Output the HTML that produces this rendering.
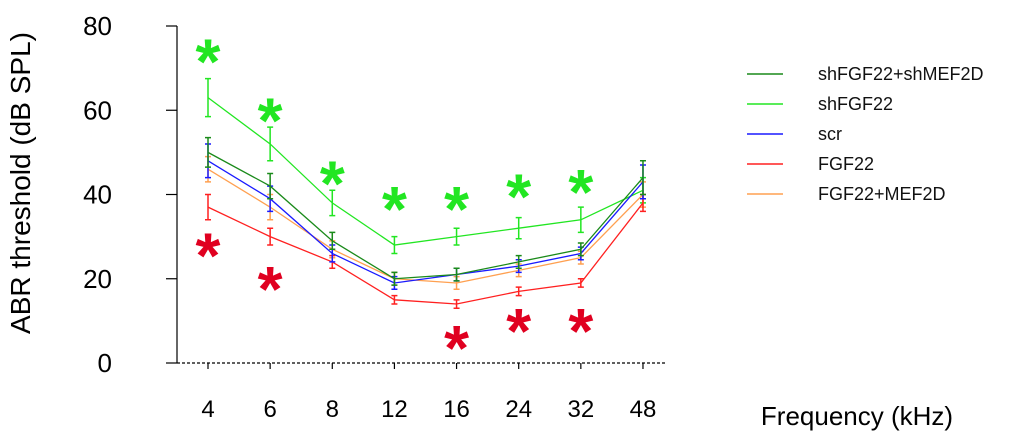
<!DOCTYPE html>
<html><head><meta charset="utf-8"><style>
body{margin:0;background:#fff;}
svg{display:block;font-family:"Liberation Sans",Arial,sans-serif;}
</style></head><body>
<svg id="chart" width="1020" height="441" viewBox="0 0 1020 441"></svg>
<script>
const categories=["4","6","8","12","16","24","32","48"];
const yTicks=[0,20,40,60,80];
const seriesNames=["shFGF22+shMEF2D","shFGF22","scr","FGF22","FGF22+MEF2D"];
const seriesColors=["#1a8a1a","#22e622","#1a1aff","#ff2020","#ffa050"];
const valsShBoth=[50,42,29,20,21,24,27,44];
const errShBoth=[3.5,3,2,1.5,1.5,1.5,1.5,4];
const valsShFGF=[63,52,38,28,30,32,34,41];
const errShFGF=[4.5,4,3,2,2,2.5,3,3];
const valsScr=[48,39,26,19,21,23,26,43];
const errScr=[4,3,2,1.5,1.5,1.5,1.5,4];
const valsFGF=[37,30,24,15,14,17,19,38];
const errFGF=[3,2,1.5,1,1,1,1,2];
const valsFGFMEF=[46,37,27,20,19,22,25,40];
const errFGFMEF=[3,3,2,1.5,1.5,1.5,1.5,3];
const greenStarVals=[73,59,44,38,38,41,42];
const greenStarCats=[0,1,2,3,4,5,6];
const redStarVals=[27,19,5,9,9];
const redStarCats=[0,1,4,5,6];

const svg=document.getElementById('chart');
const NS="http://www.w3.org/2000/svg";
function xs(i){return 208+i*62.14;}
function ys(v){return 363-4.2125*v;}
function mk(tag,attrs,parent){const e=document.createElementNS(NS,tag);for(const k in attrs)e.setAttribute(k,attrs[k]);(parent||svg).appendChild(e);return e;}

const yAxis=mk('line',{x1:177,y1:ys(80),x2:177,y2:ys(0),stroke:'#000','stroke-width':1.2});


const xAxis=mk('line',{x1:177,y1:ys(0),x2:665,y2:ys(0),stroke:'#000','stroke-width':1.2,'stroke-dasharray':'3,2'});


yTicks.forEach(t=>{
  const l=mk('line',{x1:166,y1:ys(t),x2:177,y2:ys(t),stroke:'#000','stroke-width':1.2});
  
  
  const tx=mk('text',{x:112,y:ys(t)+9,'text-anchor':'end','font-size':26,fill:'#000'});
  tx.textContent=t;
  
  
});
categories.forEach((c,i)=>{
  const x=xs(i);
  const l=mk('line',{x1:x,y1:ys(0),x2:x,y2:ys(0)+6,stroke:'#000','stroke-width':1.2});
  
  
  const tx=mk('text',{x:x,y:417,'text-anchor':'middle','font-size':24,fill:'#000'});
  tx.textContent=c;
  
  
});
const yt=mk('text',{x:0,y:0,transform:'translate(30,183) rotate(-90)','text-anchor':'middle','font-size':28,fill:'#000'});
yt.textContent='ABR threshold (dB SPL)';


const xt=mk('text',{x:857,y:425,'text-anchor':'middle','font-size':26,fill:'#000'});
xt.textContent='Frequency (kHz)';



const allVals=[valsShBoth,valsShFGF,valsScr,valsFGF,valsFGFMEF];
const allErr=[errShBoth,errShFGF,errScr,errFGF,errFGFMEF];
const order=[1,4,3,2,0];
order.forEach(s=>{
  const g=mk('g',{});
  
  
  const pts=allVals[s].map((v,i)=>xs(i)+','+ys(v)).join(' ');
  const pl=mk('polyline',{points:pts,fill:'none',stroke:seriesColors[s],'stroke-width':1.3},g);
  
  
  allVals[s].forEach((v,i)=>{
    const x=xs(i),e=allErr[s][i];
    const p=mk('path',{d:`M${x},${ys(v+e)}V${ys(v-e)}M${x-3},${ys(v+e)}H${x+3}M${x-3},${ys(v-e)}H${x+3}`,stroke:seriesColors[s],'stroke-width':1.5,fill:'none'},g);
    
    
  });
});
function star(cat,v,color){
  const t=mk('text',{x:xs(cat),y:ys(v)+28,'text-anchor':'middle','font-size':64,'font-weight':'bold',fill:color});
  t.textContent='*';
  
  
}
greenStarCats.forEach((c,i)=>star(c,greenStarVals[i],'#22e622'));
redStarCats.forEach((c,i)=>star(c,redStarVals[i],'#e00020'));

const lg=mk('g',{});


seriesNames.forEach((n,i)=>{
  const y=74+i*30;
  const l=mk('line',{x1:747,y1:y,x2:783,y2:y,stroke:seriesColors[i],'stroke-width':1.5},lg);
  
  
  const t=mk('text',{x:818,y:y+6,'font-size':18,fill:'#111'},lg);
  t.textContent=n;
  
  
});
</script>
</body></html>
